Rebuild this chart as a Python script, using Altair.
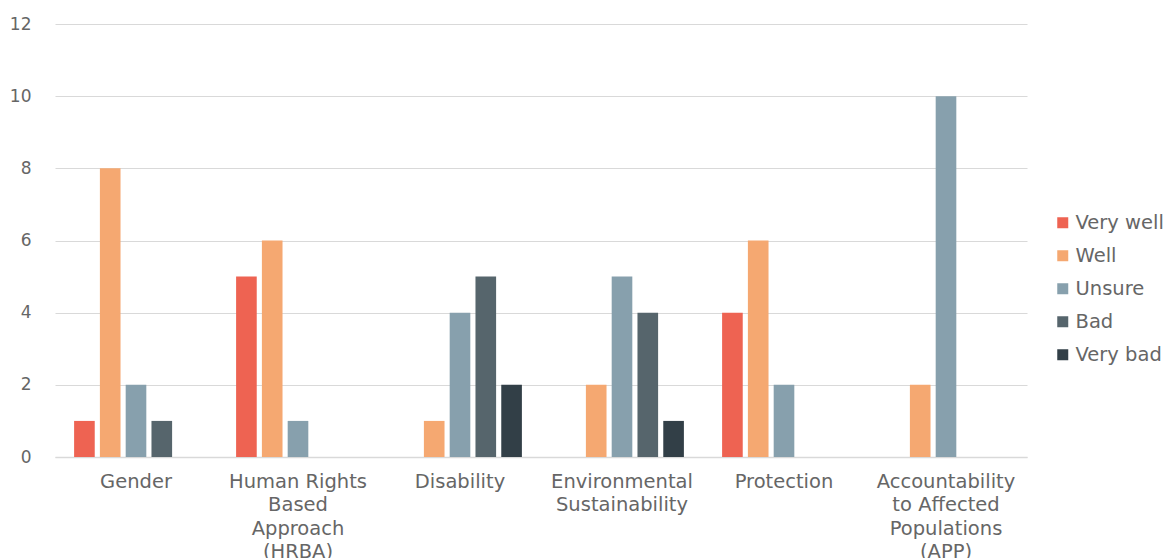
import altair as alt
import pandas as pd

# Category labels; "|" marks where the axis label wraps onto a new line
categories = [
    "Gender",
    "Human Rights|Based|Approach|(HRBA)",
    "Disability",
    "Environmental|Sustainability",
    "Protection",
    "Accountability|to Affected|Populations|(APP)",
]
ratings = ["Very well", "Well", "Unsure", "Bad", "Very bad"]
colors = ["#EE6352", "#F5A871", "#87A0AD", "#56656C", "#323F47"]

very_well = [1, 5, 0, 0, 4, 0]
well = [8, 6, 1, 2, 6, 2]
unsure = [2, 1, 4, 5, 2, 10]
bad = [1, 0, 5, 4, 0, 0]
very_bad = [0, 0, 2, 1, 0, 0]

series = [very_well, well, unsure, bad, very_bad]
rows = []
for rating, values in zip(ratings, series):
    for cat, v in zip(categories, values):
        rows.append({"category": cat, "rating": rating, "count": v})
df = pd.DataFrame(rows)

font = "DejaVu Sans"
text_color = "#666666"

chart = (
    alt.Chart(df)
    .mark_bar()
    .encode(
        x=alt.X(
            "category:N",
            sort=categories,
            title=None,
            scale=alt.Scale(paddingInner=0.204, paddingOuter=0.102),
            axis=alt.Axis(
                labelAngle=0,
                labelExpr="split(datum.value, '|')",
                labelFontSize=19.5,
                labelLineHeight=23.5,
                labelColor=text_color,
                labelFont=font,
                labelPadding=15,
                labelBaseline="top",
                ticks=False,
                domainColor="#D9D9D9",
                domainWidth=1.5,
                grid=False,
            ),
        ),
        xOffset=alt.XOffset(
            "rating:N",
            sort=ratings,
            scale=alt.Scale(paddingInner=0.2, paddingOuter=0.1),
        ),
        y=alt.Y(
            "count:Q",
            title=None,
            scale=alt.Scale(domain=[0, 12]),
            axis=alt.Axis(
                values=[0, 2, 4, 6, 8, 10, 12],
                labelFontSize=17,
                labelColor=text_color,
                labelFont=font,
                labelPadding=24,
                ticks=False,
                domain=False,
                gridColor="#D9D9D9",
                gridWidth=1,
            ),
        ),
        color=alt.Color(
            "rating:N",
            sort=ratings,
            scale=alt.Scale(domain=ratings, range=colors),
            legend=alt.Legend(
                title=None,
                orient="none",
                legendX=998,
                legendY=189,
                symbolType="square",
                symbolSize=121,
                symbolStrokeWidth=0,
                labelFontSize=19.5,
                labelColor=text_color,
                labelFont=font,
                labelOffset=3,
                rowPadding=12,
            ),
        ),
    )
    .properties(
        width=972,
        height=433,
        padding={"left": 55, "top": 24, "right": 147, "bottom": 101},
        autosize=alt.AutoSizeParams(type="none"),
    )
    .configure(background="white")
    .configure_view(stroke=None)
)

chart.save("out.html", embed_options={"renderer": "svg", "actions": False})
